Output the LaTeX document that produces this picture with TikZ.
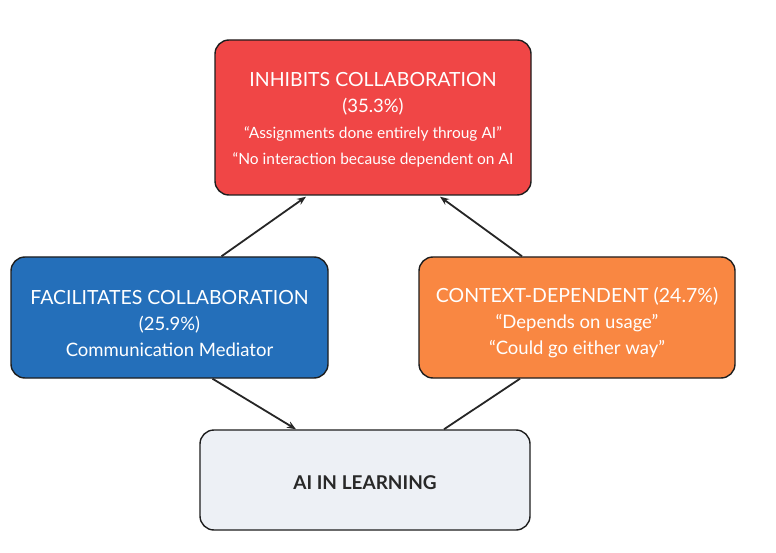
\documentclass[tikz,border=0pt]{standalone}
\usepackage{fontspec}
\setmainfont{Lato}
\usetikzlibrary{arrows.meta,calc}
\definecolor{inhibitred}{RGB}{240,70,70}
\definecolor{facilblue}{RGB}{36,111,186}
\definecolor{contextorange}{RGB}{249,135,66}
\definecolor{learngrey}{RGB}{237,240,245}
\definecolor{edgedark}{RGB}{30,30,30}
\definecolor{labeldark}{RGB}{40,40,40}
\newcommand{\lowerby}[1]{\rule{0pt}{#1}}
\newcommand{\headline}[1]{{\fontsize{19.5}{26}\selectfont #1}}
\newcommand{\quoteline}[1]{{\fontsize{15.5}{25.5}\selectfont #1}}
\begin{document}
\begin{tikzpicture}[x=1pt,y=-1pt,
  box/.style={draw=edgedark,line width=1.4pt,rounded corners=14pt,
    align=center,inner sep=0pt,font=\fontsize{18.5}{26}\selectfont},
  link/.style={draw=black!85,line width=1.8pt},
  tip/.style={link,-{Stealth[length=9pt,width=7pt]}}]
\useasboundingbox (0,0) rectangle (776,553);
\fill[white] (0,0) rectangle (776,553);

\node[box,fill=inhibitred,text=white,minimum width=316pt,minimum height=155pt]
  (inhibit) at (373,117.5)
  {\lowerby{18pt}\headline{INHIBITS COLLABORATION}\\(35.3\%)\\
   \quoteline{“Assignments done entirely throug AI”}\\
   \quoteline{“No interaction because dependent on AI}};

\node[box,fill=facilblue,text=white,minimum width=317pt,minimum height=121pt]
  (facil) at (169.5,317.5)
  {\lowerby{26pt}\headline{FACILITATES COLLABORATION}\\(25.9\%)\\Communication Mediator};

\node[box,fill=contextorange,text=white,minimum width=316pt,minimum height=121pt]
  (context) at (577,317.5)
  {\lowerby{26pt}\headline{CONTEXT-DEPENDENT (24.7\%)}\\“Depends on usage”\\“Could go either way”};

\node[box,fill=learngrey,text=labeldark,minimum width=330pt,minimum height=100pt,
  font=\fontsize{19}{24}\selectfont\bfseries]
  (learn) at (365,480) {\lowerby{19pt}AI IN LEARNING};

\draw[tip] ($(facil.north)+(52,0)$) -- ($(inhibit.south)+(-67,1)$);
\draw[tip] ($(context.north)+(-55,0)$) -- ($(inhibit.south)+(67,1)$);
\draw[tip] ($(facil.south)+(43,0)$) -- ($(learn.north)+(-69,0)$);
\draw[link] ($(learn.north)+(79,0)$) -- ($(context.south)+(-57,0)$);
\end{tikzpicture}
\end{document}
